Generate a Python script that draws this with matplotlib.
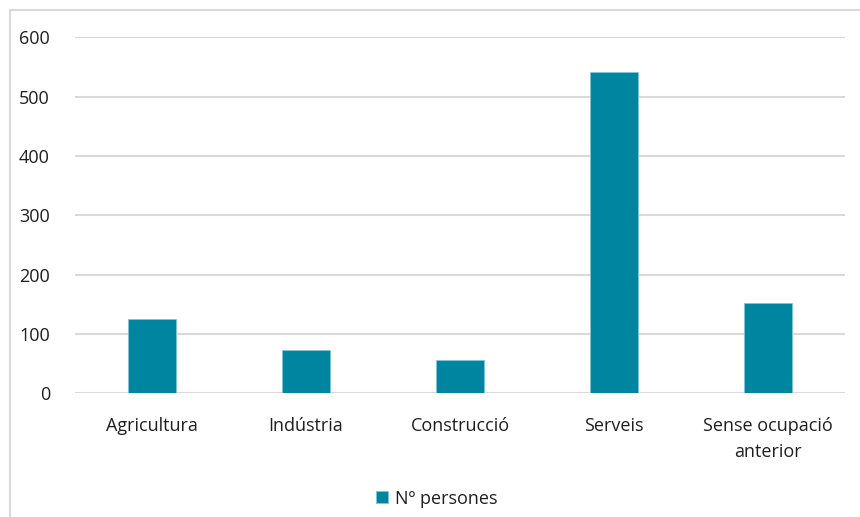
import matplotlib.pyplot as plt
from matplotlib.patches import Rectangle
import numpy as np

# ── Data ─────────────────────────────────────────────────────────────────────
sectors = ["Agricultura", "Indústria", "Construcció", "Serveis",
           "Sense ocupació\nanterior"]
persons = [126, 73, 56, 541, 153]
yticks = [0, 100, 200, 300, 400, 500, 600]

BAR_COLOR = "#0085A1"
GRID_COLOR = "#D9D9D9"
TXT = "#1F1F1F"

plt.rcParams["font.family"] = ["Open Sans", "DejaVu Sans"]

fig = plt.figure(figsize=(8.6, 5.17), dpi=100)
ax = fig.add_axes([0.0872, 0.2393, 0.8954, 0.6882])

# light frame round the chart
fig.patches.append(Rectangle((10 / 860, -0.01), 1.0, (517 - 10) / 517 + 0.01,
                             transform=fig.transFigure, fill=False,
                             edgecolor=GRID_COLOR, linewidth=1.5))

x = np.arange(len(sectors))
ax.bar(x, persons, width=0.31, color=BAR_COLOR, edgecolor="#7FC8D6",
       linewidth=0.6, label="Nº persones", zorder=3)

ax.set_xlim(-0.5, len(sectors) - 0.5)
ax.set_ylim(0, 600)
ax.set_yticks(yticks)
ax.set_xticks(x)
ax.set_xticklabels(sectors, fontsize=13, color=TXT, linespacing=1.55)
ax.tick_params(axis="y", labelsize=13, colors=TXT, length=0, pad=18)
ax.tick_params(axis="x", length=0, pad=17)
ax.grid(axis="y", color=GRID_COLOR, linewidth=1.5, zorder=0)
for s in ax.spines.values():
    s.set_visible(False)

ax.legend(loc="upper center", bbox_to_anchor=(0.47, -0.225), frameon=False,
          fontsize=13, handlelength=0.65, handleheight=0.65, handletextpad=0.4,
          labelcolor=TXT)

plt.savefig("out.png", dpi=100)
